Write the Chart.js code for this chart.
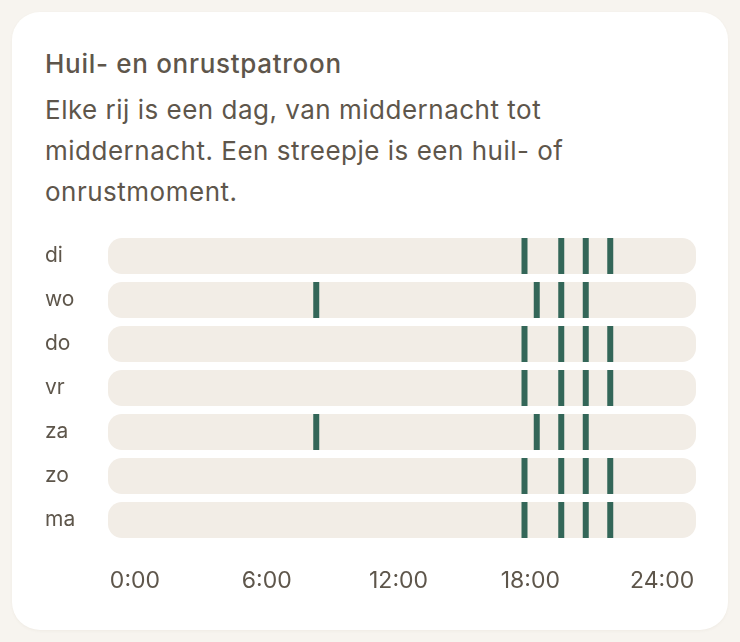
<!DOCTYPE html>
<html lang="nl">
<head>
<meta charset="utf-8">
<script src="https://cdn.jsdelivr.net/npm/chart.js@4.4.1/dist/chart.umd.min.js"></script>
<style>
  html, body { margin: 0; padding: 0; }
  body { width: 740px; height: 642px; background: #f7f4ef; position: relative; overflow: hidden; font-family: "Inter", "Noto Sans", sans-serif; color: #5e564b; }
  .card { position: absolute; left: 12px; top: 12px; width: 716px; height: 618px; background: #ffffff; border-radius: 28px; box-shadow: 0 1px 3px rgba(120,100,70,0.06); }
  .title { position: absolute; left: 45px; top: 48px; font-size: 26px; font-weight: 500; letter-spacing: 0.7px; line-height: 32px; white-space: nowrap; }
  .sub { position: absolute; left: 45px; top: 89px; width: 600px; font-size: 26px; font-weight: 400; letter-spacing: 0.5px; line-height: 41px; }
  .wrap { position: absolute; left: 45px; top: 230px; width: 651px; height: 380px; }
</style>
</head>
<body>
<div class="card"></div>
<div class="title">Huil- en onrustpatroon</div>
<div class="sub">Elke rij is een dag, van middernacht tot middernacht. Een streepje is een huil- of onrustmoment.</div>
<div class="wrap"><canvas id="c" width="651" height="380"></canvas></div>
<script>
// Data
const days = ["di", "wo", "do", "vr", "za", "zo", "ma"];
const dayStart = 0;
const dayEnd = 24;
const episodes_di = [17, 18.5, 19.5, 20.5];
const episodes_wo = [8.5, 17.5, 18.5, 19.5];
const episodes_do = [17, 18.5, 19.5, 20.5];
const episodes_vr = [17, 18.5, 19.5, 20.5];
const episodes_za = [8.5, 17.5, 18.5, 19.5];
const episodes_zo = [17, 18.5, 19.5, 20.5];
const episodes_ma = [17, 18.5, 19.5, 20.5];
const tickValues = [0, 6, 12, 18, 24];
const tickLabels = ["0:00", "6:00", "12:00", "18:00", "24:00"];

const episodesByDay = [episodes_di, episodes_wo, episodes_do, episodes_vr, episodes_za, episodes_zo, episodes_ma];
const markPoints = [];
episodesByDay.forEach((list, i) => list.forEach(h => markPoints.push({ x: h, y: days[i] })));

const textColor = "#5e564b";
const font = '"Inter", "Noto Sans", sans-serif';

new Chart(document.getElementById("c"), {
  type: "bar",
  data: {
    labels: days,
    datasets: [
      {
        type: "scatter",
        label: "Momenten",
        data: markPoints,
        xAxisID: "x",
        yAxisID: "y",
        pointStyle: "line",
        rotation: 90,
        radius: 18,
        hoverRadius: 18,
        borderWidth: 6,
        hoverBorderWidth: 6,
        borderColor: "#336658",
        backgroundColor: "#336658",
        clip: false,
        order: 0
      },
      {
        type: "bar",
        label: "Dag",
        indexAxis: "y",
        data: days.map(() => [dayStart, dayEnd]),
        xAxisID: "x",
        yAxisID: "y",
        backgroundColor: "#f2ede6",
        borderRadius: 14,
        borderSkipped: false,
        barPercentage: 36 / 44,
        categoryPercentage: 1,
        order: 1
      }
    ]
  },
  options: {
    responsive: false,
    animation: false,
    indexAxis: "y",
    events: [],
    layout: { autoPadding: false, padding: { top: 4, bottom: 0, left: 0, right: 0 } },
    plugins: { legend: { display: false }, tooltip: { enabled: false }, title: { display: false } },
    scales: {
      x: {
        type: "linear",
        min: dayStart,
        max: dayEnd,
        display: false
      },
      xt: {
        type: "linear",
        position: "bottom",
        axis: "x",
        min: -1.227,
        max: 25.545,
        grid: { display: false, drawTicks: false },
        border: { display: false },
        afterBuildTicks: (s) => { s.ticks = tickValues.map(v => ({ value: v })); },
        afterFit: (s) => { s.height = 68; s.paddingLeft = 0; s.paddingRight = 0; },
        ticks: {
          padding: 25,
          color: textColor,
          font: { family: font, size: 23 },
          maxRotation: 0,
          autoSkip: false,
          callback: (v) => tickLabels[tickValues.indexOf(v)]
        }
      },
      y: {
        type: "category",
        labels: days,
        offset: true,
        grid: { display: false, drawTicks: false },
        border: { display: false },
        afterFit: (s) => { s.width = 63; s.paddingTop = 0; s.paddingBottom = 0; },
        ticks: {
          crossAlign: "far",
          padding: 0,
          color: textColor,
          font: { family: font, size: 21 }
        }
      }
    }
  }
});
</script>
</body>
</html>
